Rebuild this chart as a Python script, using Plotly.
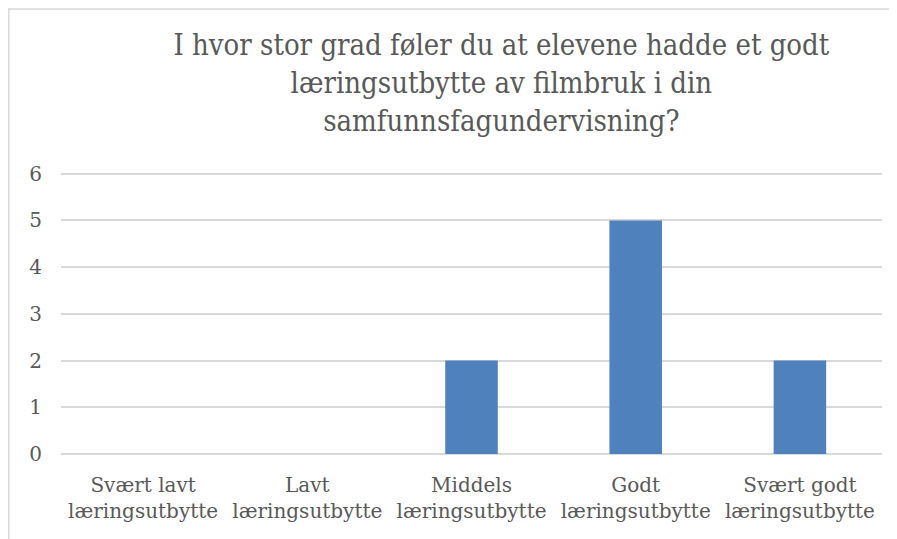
import plotly.graph_objs as go

kategorier = ['Svært lavt<br>læringsutbytte', 'Lavt<br>læringsutbytte', 'Middels<br>læringsutbytte',
              'Godt<br>læringsutbytte', 'Svært godt<br>læringsutbytte']
antall = [0, 0, 2, 5, 2]
y_ticks = [0, 1, 2, 3, 4, 5, 6]

tittel = ('I hvor stor grad føler du at elevene hadde et godt<br>'
          'læringsutbytte av filmbruk i din<br>samfunnsfagundervisning?')

fig = go.Figure()
fig.add_trace(go.Bar(
    x=kategorier,
    y=antall,
    marker=dict(color='#4F81BD', line=dict(width=0)),
))

# ramme rundt diagrammet (som i Excel)
fig.add_shape(type='rect', xref='paper', yref='paper',
              x0=-0.0636, x1=1.2, y0=-0.5, y1=1.561,
              line=dict(color='#D9D9D9', width=1.5), layer='below')

fig.update_layout(
    width=897, height=539,
    margin=dict(l=53, r=23, t=161, b=93),
    paper_bgcolor='white', plot_bgcolor='white',
    showlegend=False,
    bargap=0.68,
    title=dict(text=tittel, x=0.55, xanchor='center', y=0.912, yanchor='top',
               font=dict(family='DejaVu Serif Condensed', size=29, color='#595959')),
    font=dict(family='DejaVu Serif', size=20, color='#595959'),
    xaxis=dict(showgrid=False, showline=False, ticks='', ticklabelstandoff=17,
               tickfont=dict(family='DejaVu Serif', size=20, color='#595959')),
    yaxis=dict(range=[0, 6.1], tickvals=y_ticks, showgrid=True, gridcolor='#D9D9D9', gridwidth=1.5,
               zeroline=True, zerolinecolor='#D9D9D9', zerolinewidth=1.5,
               showline=False, ticks='', ticklabelstandoff=18,
               tickfont=dict(family='DejaVu Serif', size=20, color='#595959')),
)

fig.write_html('out.html')
